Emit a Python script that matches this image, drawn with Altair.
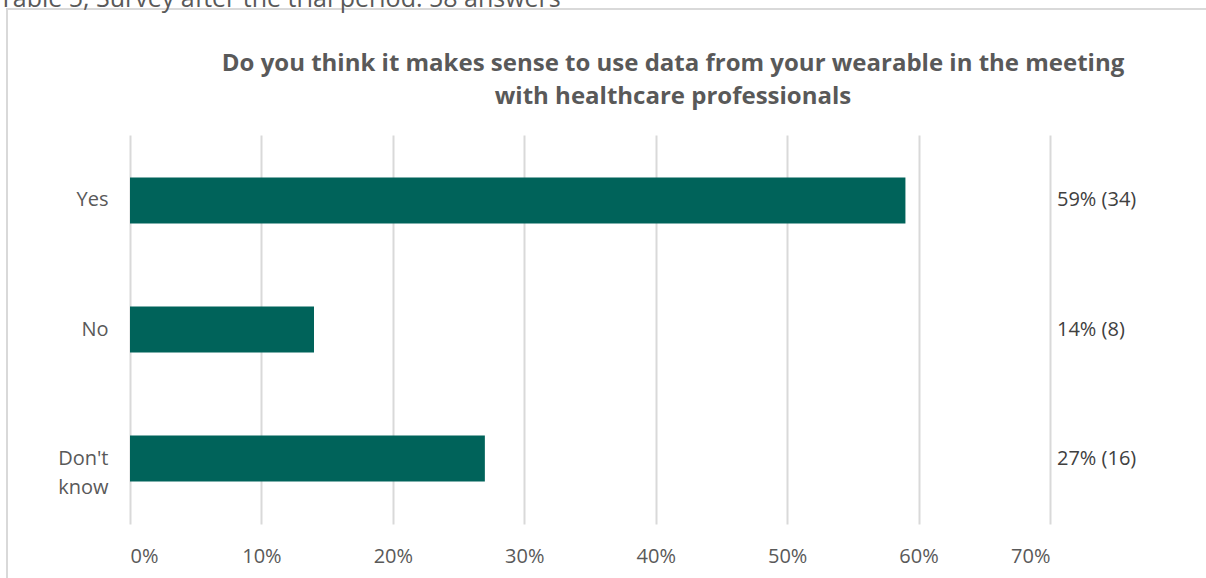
import altair as alt
import pandas as pd

# Survey answers
answers = ["Yes", "No", "Don't know"]
shares = [0.59, 0.14, 0.27]
counts = [34, 8, 16]
value_labels = ["59% (34)", "14% (8)", "27% (16)"]

caption = "Table 5, Survey after the trial period: 58 answers"
title_lines = [
    "Do you think it makes sense to use data from your wearable in the meeting",
    "with healthcare professionals",
]

df = pd.DataFrame({
    "answer": answers,
    "share": shares,
    "count": counts,
    "label": value_labels,
})

W, H = 920, 389
FONT = "Open Sans"
GREY = "#595959"

y_enc = alt.Y(
    "answer:N",
    sort=answers,
    title=None,
    scale=alt.Scale(paddingInner=0.645, paddingOuter=0.33),
    axis=alt.Axis(
        domain=False, ticks=False, labelPadding=22,
        labelFont=FONT, labelFontSize=20, labelColor=GREY,
        labelExpr="datum.value == \"Don't know\" ? [\"Don't\", 'know'] : datum.value",
        labelLineHeight=29,
    ),
)

x_scale = alt.Scale(domain=[0, 0.7], nice=False)

bars = alt.Chart(df).mark_bar(color="#00635A").encode(
    x=alt.X(
        "share:Q",
        scale=x_scale,
        title=None,
        axis=alt.Axis(
            format=".0%", values=[0, 0.1, 0.2, 0.3, 0.4, 0.5, 0.6, 0.7],
            domain=False, ticks=False, labelPadding=22,
            labelFont=FONT, labelFontSize=20, labelColor=GREY,
            grid=True, gridColor="#d9d9d9", gridWidth=2,
        ),
    ),
    y=y_enc,
)

labels = alt.Chart(df).mark_text(
    align="left", baseline="middle", dx=7, font=FONT, fontSize=20, color="#404040"
).encode(
    x=alt.datum(0.7, scale=x_scale),
    y=alt.Y("answer:N", sort=answers),
    text="label:N",
)

title = alt.Chart(pd.DataFrame({"k": [0]})).mark_text(
    align="center", baseline="alphabetic", font=FONT, fontSize=24,
    fontWeight="bold", color=GREY, lineHeight=33,
).encode(
    x=alt.value(543),
    y=alt.value(-64),
    text=alt.value(title_lines),
)

caption_mark = alt.Chart(pd.DataFrame({"t": [caption]})).mark_text(
    align="left", baseline="alphabetic", font=FONT, fontSize=25, color=GREY,
).encode(
    x=alt.value(-131),
    y=alt.value(-128),
    text="t:N",
)

frame = alt.Chart(pd.DataFrame({"k": [0]})).mark_rect(
    fill=None, stroke="#d9d9d9", strokeWidth=2
).encode(
    x=alt.value(-123), x2=alt.value(1100),
    y=alt.value(-126), y2=alt.value(500),
)

chart = alt.layer(frame, bars, labels, title, caption_mark).properties(
    width=W, height=H,
    padding={"left": 130, "top": 135, "right": 156, "bottom": 54},
    autosize=alt.AutoSizeParams(type="none"),
    background="white",
).configure_view(stroke=None)

chart.save("out.html", embed_options={"renderer": "svg", "actions": False})
